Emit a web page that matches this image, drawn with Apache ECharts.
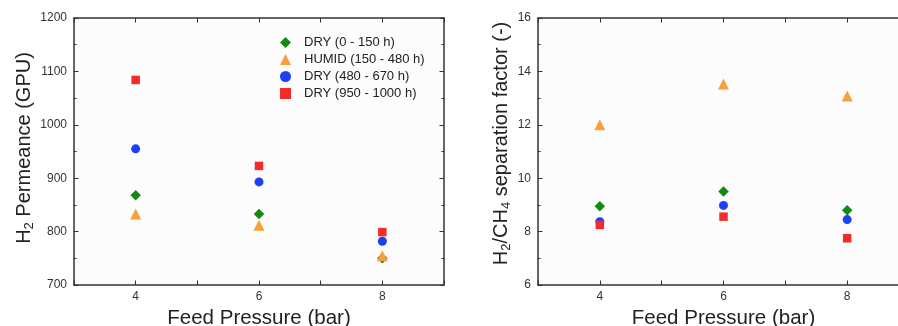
<!DOCTYPE html>
<html><head><meta charset="utf-8">
<script src="https://cdn.jsdelivr.net/npm/echarts@6/dist/echarts.min.js"></script>
<style>html,body{margin:0;padding:0;background:#fff}#c{width:898px;height:326px}</style>
</head><body><div id="c"></div>
<script>
const pressures = [4, 6, 8];
const seriesNames = ['DRY (0 - 150 h)', 'HUMID (150 - 480 h)', 'DRY (480 - 670 h)', 'DRY (950 - 1000 h)'];
const permDry1 = [868, 833, 750];
const permHumid = [833, 812, 755];
const permDry2 = [955, 893, 782];
const permDry3 = [1084, 923, 799];
const sepDry1 = [8.95, 9.5, 8.8];
const sepHumid = [12.0, 13.53, 13.08];
const sepDry2 = [8.37, 8.98, 8.45];
const sepDry3 = [8.25, 8.56, 7.75];
const xTickLabels = ['4', '6', '8'];

const colors = ['#128a12', '#f8a03c', '#1e3ff2', '#f42b2b'];
const symbols = ['diamond', 'triangle', 'circle', 'rect'];
const sizes = [10.5, 11, 9, 8.5];
const axisColor = '#333';
const font = 'Arial, "Liberation Sans", sans-serif';

function pairs(vals) { return pressures.map((p, i) => [p, vals[i]]); }

function xAx(gi, show) {
  return {
    type: 'value', gridIndex: gi, min: 3, max: 9, interval: 1, position: show ? 'bottom' : 'top',
    axisLine: { show: true, onZero: false, lineStyle: { color: axisColor, width: 1.5 } },
    axisTick: { show: true, inside: true, length: 4.5, lineStyle: { color: axisColor } },
    axisLabel: { show: show, color: '#333', fontSize: 12, fontFamily: font, margin: 6,
      formatter: v => xTickLabels.includes(String(v)) ? String(v) : '' },
    splitLine: { show: false },
    name: show ? 'Feed Pressure (bar)' : '', nameLocation: 'middle', nameGap: 23,
    nameTextStyle: { fontSize: 20.5, color: '#222', fontFamily: font }
  };
}
function yAx(gi, min, max, interval, show, name, gap) {
  return {
    type: 'value', gridIndex: gi, min: min, max: max, interval: interval, position: show ? 'left' : 'right',
    axisLine: { show: true, onZero: false, lineStyle: { color: axisColor, width: 1.5 } },
    axisTick: { show: true, inside: true, length: 4.5, lineStyle: { color: axisColor } },
    minorTick: { show: true, splitNumber: 2, length: 2.5, lineStyle: { color: axisColor } },
    axisLabel: { show: show, color: '#333', fontSize: 12, fontFamily: font, margin: 7, formatter: v => String(v) },
    splitLine: { show: false },
    name: show ? name : '', nameLocation: 'middle', nameGap: gap, nameRotate: 90
  };
}

const yLeft = yAx(0, 700, 1200, 100, true, '{a|H}{s|2}{a| Permeance (GPU)}', 37);
yLeft.nameTextStyle = { fontFamily: font, color: '#222', padding: [0, 0, 0, 7],
  rich: { a: { fontSize: 20, fontFamily: font, color: '#222' }, s: { fontSize: 13, fontFamily: font, color: '#222', verticalAlign: 'bottom', padding: [10, 0, 0, 0] } } };
const yRight = yAx(1, 6, 16, 2, true, '{a|H}{s|2}{a|/CH}{s|4}{a| separation factor (-)}', 25);
yRight.nameTextStyle = { fontFamily: font, color: '#222', padding: [0, 0, 0, 16],
  rich: { a: { fontSize: 20, fontFamily: font, color: '#222' }, s: { fontSize: 13, fontFamily: font, color: '#222', verticalAlign: 'bottom', padding: [10, 0, 0, 0] } } };

const leftData = [permDry1, permHumid, permDry2, permDry3];
const rightData = [sepDry1, sepHumid, sepDry2, sepDry3];
const series = [];
leftData.forEach((d, i) => series.push({ name: seriesNames[i], type: 'scatter', xAxisIndex: 0, yAxisIndex: 0,
  symbol: symbols[i], symbolSize: sizes[i], itemStyle: { color: colors[i], opacity: 1 }, data: pairs(d) }));
rightData.forEach((d, i) => series.push({ name: seriesNames[i], type: 'scatter', xAxisIndex: 2, yAxisIndex: 2,
  symbol: symbols[i], symbolSize: sizes[i], itemStyle: { color: colors[i], opacity: 1 }, data: pairs(d) }));

const chart = echarts.init(document.getElementById('c'), null, { renderer: 'canvas' });
chart.setOption({
  backgroundColor: '#fff',
  animation: false,
  grid: [
    { left: 74, width: 370, top: 18, height: 267, show: true, backgroundColor: '#fcfcfc', borderWidth: 0, outerBoundsMode: 'none', containLabel: false },
    { left: 538, width: 371, top: 18, height: 267, show: true, backgroundColor: '#fcfcfc', borderWidth: 0, outerBoundsMode: 'none', containLabel: false }
  ],
  legend: {
    data: seriesNames.map((n, i) => ({ name: n, icon: symbols[i] })),
    orient: 'vertical', left: 275, top: 31, itemGap: 4, itemWidth: 11, itemHeight: 11,
    textStyle: { fontSize: 13, color: '#222', fontFamily: font, padding: [0, 0, 0, 8] }
  },
  xAxis: [xAx(0, true), xAx(0, false), xAx(1, true), xAx(1, false)],
  yAxis: [yLeft, yAx(0, 700, 1200, 100, false), yRight, yAx(1, 6, 16, 2, false)],
  series: series
});
</script></body></html>
